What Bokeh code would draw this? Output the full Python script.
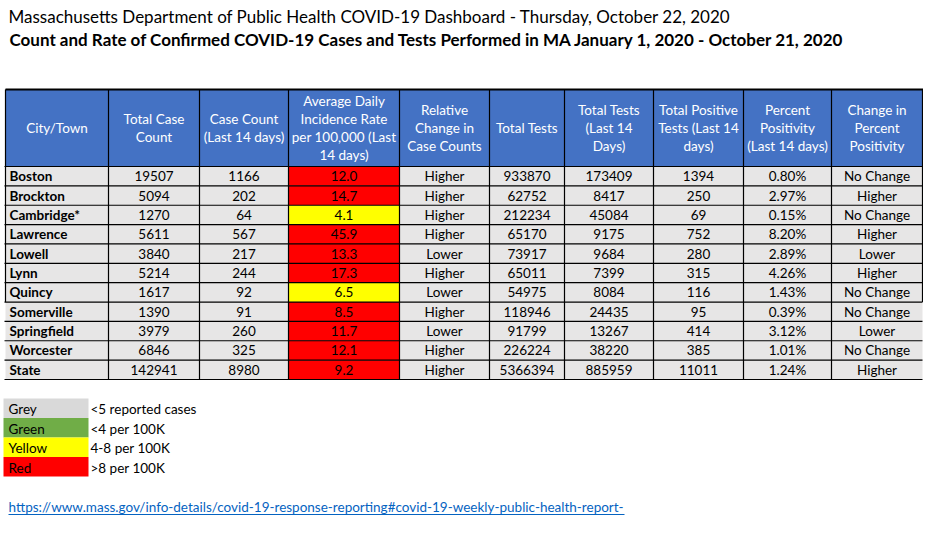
from bokeh.plotting import figure
from bokeh.models import Range1d
from bokeh.embed import file_html
from bokeh.resources import INLINE
from bokeh.core.properties import value

# ---------------- data ----------------
title1 = "Massachusetts Department of Public Health COVID-19 Dashboard - Thursday, October 22, 2020"
title2 = "Count and Rate of Confirmed COVID-19 Cases and Tests Performed in MA January 1, 2020 - October 21, 2020"
headers = ["City/Town", "Total Case\nCount", "Case Count\n(Last 14 days)",
           "Average Daily\nIncidence Rate\nper 100,000 (Last\n14 days)",
           "Relative\nChange in\nCase Counts", "Total Tests", "Total Tests\n(Last 14\nDays)",
           "Total Positive\nTests (Last 14\ndays)", "Percent\nPositivity\n(Last 14 days)",
           "Change in\nPercent\nPositivity"]
cities = ["Boston", "Brockton", "Cambridge*", "Lawrence", "Lowell", "Lynn", "Quincy",
          "Somerville", "Springfield", "Worcester", "State"]
total_cases = [19507, 5094, 1270, 5611, 3840, 5214, 1617, 1390, 3979, 6846, 142941]
cases_14 = [1166, 202, 64, 567, 217, 244, 92, 91, 260, 325, 8980]
incidence = [12.0, 14.7, 4.1, 45.9, 13.3, 17.3, 6.5, 8.5, 11.7, 12.1, 9.2]
rel_change = ["Higher", "Higher", "Higher", "Higher", "Lower", "Higher", "Lower",
              "Higher", "Lower", "Higher", "Higher"]
total_tests = [933870, 62752, 212234, 65170, 73917, 65011, 54975, 118946, 91799, 226224, 5366394]
tests_14 = [173409, 8417, 45084, 9175, 9684, 7399, 8084, 24435, 13267, 38220, 885959]
pos_14 = [1394, 250, 69, 752, 280, 315, 116, 95, 414, 385, 11011]
pct_pos = [0.80, 2.97, 0.15, 8.20, 2.89, 4.26, 1.43, 0.39, 3.12, 1.01, 1.24]
pct_change = ["No Change", "Higher", "No Change", "Higher", "Lower", "Higher", "No Change",
              "No Change", "Lower", "No Change", "Higher"]
legend_names = ["Grey", "Green", "Yellow", "Red"]
legend_desc = ["<5 reported cases", "<4 per 100K", "4-8 per 100K", ">8 per 100K"]
legend_colors = ["#D9D9D9", "#70AD47", "#FFFF00", "#FF0000"]
link_text = "https://www.mass.gov/info-details/covid-19-response-reporting#covid-19-weekly-public-health-report-"

# ---------------- layout ----------------
FONT = "Lato"
W, H = 923, 534
col_edges = [5, 108, 199, 288, 399, 489, 564, 653, 743, 831, 922]
head_top, head_bot = 89, 166
n = len(cities)
row_h = (379 - head_bot) / n
row_tops = [head_bot + i * row_h for i in range(n)]
row_bots = [t + row_h for t in row_tops]
row_mid = [t + row_h / 2 for t in row_tops]
col_mid = [(col_edges[i] + col_edges[i + 1]) / 2 for i in range(len(col_edges) - 1)]

p = figure(width=W, height=H, output_backend="svg", toolbar_location=None,
           x_range=Range1d(0, W), y_range=Range1d(H, 0),
           min_border=0, outline_line_color=None)
p.axis.visible = False
p.grid.visible = False
p.background_fill_color = "white"

# titles
p.text(x=[8], y=[16], text=[title1], text_font=value(FONT), text_font_size="17px",
       text_baseline="middle", text_color="black")
p.text(x=[9], y=[39], text=[title2], text_font=value(FONT), text_font_size="17px",
       text_font_style="bold", text_baseline="middle", text_color="black")

# header cells
p.quad(left=col_edges[:-1], right=col_edges[1:], top=[head_top] * 10, bottom=[head_bot] * 10,
       fill_color="#4472C4", line_color=None)

# data cells
def inc_color(v):
    if v > 8:
        return "#FF0000"
    if v >= 4:
        return "#FFFF00"
    return "#70AD47"

lefts, rights, tops, bots, fills = [], [], [], [], []
for r in range(n):
    for c in range(10):
        lefts.append(col_edges[c]); rights.append(col_edges[c + 1])
        tops.append(row_tops[r]); bots.append(row_bots[r])
        fills.append(inc_color(incidence[r]) if c == 3 else "#E7E6E6")
p.quad(left=lefts, right=rights, top=tops, bottom=bots, fill_color=fills, line_color=None)

# grid lines
quincy_bot = row_bots[cities.index("Quincy")]
xs, ys = [], []
for i, x in enumerate(col_edges):
    if i == 0 or i == len(col_edges) - 1:
        xs.append([x, x]); ys.append([head_top, quincy_bot])
    else:
        xs.append([x, x]); ys.append([head_top, row_bots[-1]])
for yb in [head_bot] + row_bots:
    xs.append([col_edges[0] - 1, col_edges[-1]]); ys.append([yb, yb])
p.multi_line(xs=xs, ys=ys, line_color="black", line_width=1.2)
p.segment(x0=[col_edges[0]], x1=[col_edges[-1] + 1], y0=[head_top], y1=[head_top],
          line_color="black", line_width=2)

# header text
hx, hy, ht = [], [], []
line_sp = 18
for c, h in enumerate(headers):
    lines = h.split("\n")
    cy = (head_top + head_bot) / 2
    start = cy - (len(lines) - 1) * line_sp / 2
    for k, ln in enumerate(lines):
        hx.append(col_mid[c]); hy.append(start + k * line_sp); ht.append(ln)
p.text(x=hx, y=hy, text=ht, text_font=value(FONT), text_font_size="13.5px",
       text_color="white", text_align="center", text_baseline="middle")

# city names
p.text(x=[9] * n, y=row_mid, text=cities, text_font=value(FONT), text_font_size="13.5px",
       text_font_style="bold", text_color="black", text_baseline="middle")

# other columns
cols = [
    [str(v) for v in total_cases],
    [str(v) for v in cases_14],
    ["%.1f" % v for v in incidence],
    rel_change,
    [str(v) for v in total_tests],
    [str(v) for v in tests_14],
    [str(v) for v in pos_14],
    ["%.2f%%" % v for v in pct_pos],
    pct_change,
]
dx, dy, dt = [], [], []
for ci, colvals in enumerate(cols):
    for r in range(n):
        dx.append(col_mid[ci + 1]); dy.append(row_mid[r]); dt.append(colvals[r])
p.text(x=dx, y=dy, text=dt, text_font=value(FONT), text_font_size="13.5px",
       text_color="black", text_align="center", text_baseline="middle")

# legend
leg_top = 398
leg_h = 19.5
lt = [leg_top + i * leg_h for i in range(len(legend_names))]
p.quad(left=[3] * 4, right=[88] * 4, top=lt, bottom=[t + leg_h for t in lt],
       fill_color=legend_colors, line_color=None)
p.text(x=[8] * 4, y=[t + leg_h / 2 + 1 for t in lt], text=legend_names, text_font=value(FONT),
       text_font_size="13.5px", text_color="black", text_baseline="middle")
p.text(x=[90] * 4, y=[t + leg_h / 2 + 1 for t in lt], text=legend_desc, text_font=value(FONT),
       text_font_size="13.5px", text_color="black", text_baseline="middle")

# link
p.text(x=[8], y=[506], text=[link_text], text_font=value(FONT), text_font_size="13.5px",
       text_color="#0563C1", text_baseline="middle")
p.segment(x0=[8], x1=[624], y0=[514], y1=[514], line_color="#0563C1", line_width=1)

open("out.html", "w").write(file_html(p, INLINE))
